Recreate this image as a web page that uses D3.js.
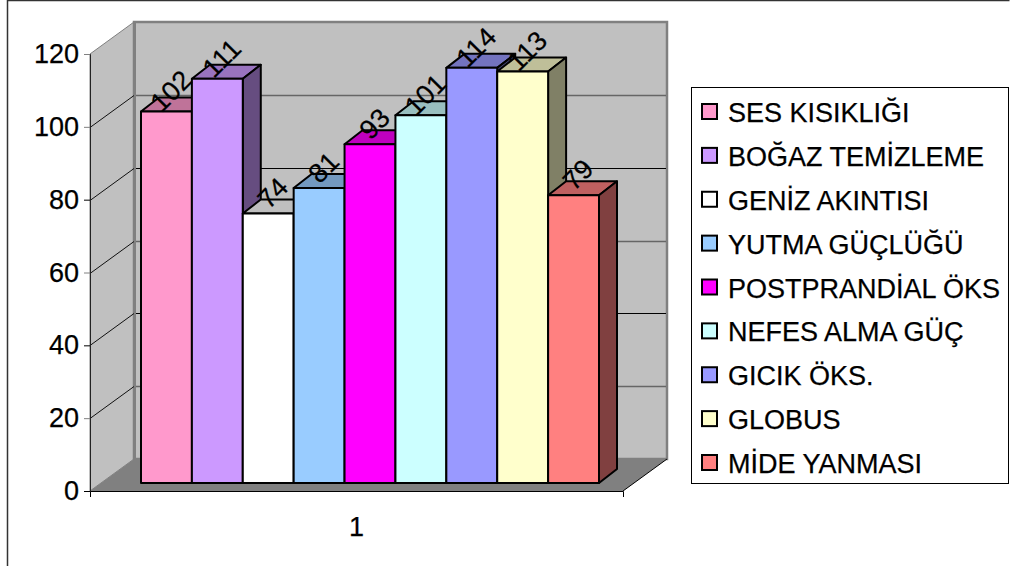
<!DOCTYPE html>
<html>
<head>
<meta charset="utf-8">
<script src="https://cdn.jsdelivr.net/npm/d3@7"></script>
<style>
html, body { margin: 0; padding: 0; background: #fff; }
svg { display: block; }
text { font-family: "Liberation Sans", Arial, sans-serif; fill: #000; stroke: #000; stroke-width: 0.25px; }
</style>
</head>
<body>
<div id="chart"></div>
<script>
var categories = ["SES KISIKLIĞI", "BOĞAZ TEMİZLEME", "GENİZ AKINTISI", "YUTMA GÜÇLÜĞÜ",
    "POSTPRANDİAL ÖKS", "NEFES ALMA GÜÇ", "GICIK ÖKS.", "GLOBUS", "MİDE YANMASI"];
var values = [102, 111, 74, 81, 93, 101, 114, 113, 79];
var colors = ["#FF99CC", "#CC99FF", "#FFFFFF", "#99CCFF", "#FF00FF", "#CCFFFF", "#9999FF", "#FFFFCC", "#FF8080"];
var yTicks = [0, 20, 40, 60, 80, 100, 120];
var xLabels = ["1"];

var w = 1010, h = 566;
var wallDx = 44, wallDy = -32;   // depth of the chart box
var barDx = 18, barDy = -14;     // depth of a bar
var floorGap = 8;                // bars stand this far up the floor
var fontSize = "27px";

var svg = d3.select("#chart").append("svg")
    .attr("width", w)
    .attr("height", h);

var yScale = d3.scaleLinear().domain([0, 120]).range([491, 54]);
var xAxisScale = d3.scaleBand().domain(xLabels).range([90, 623]);
var xScale = d3.scaleBand().domain(categories).range([141, 599]);

function pts(list) {
    return list.map(function(p) { return p[0] + "," + p[1]; }).join(" ");
}
// the picture was scaled down, so every other gridline came out grey and thicker
function isGrey(d) { return (d / 20) % 2 == 1; }

// outer frame
svg.append("path")
    .attr("d", "M7.5," + h + "V0.5H" + (w - 0.5))
    .attr("fill", "none")
    .attr("stroke", "#333")
    .attr("stroke-width", 1.5);

var x0 = xAxisScale.range()[0], x1 = xAxisScale.range()[1];
var y0 = yScale(0), yTop = yScale(120);

// walls
svg.append("polygon")
    .attr("points", pts([[x0, y0], [x0, yTop], [x0 + wallDx, yTop + wallDy], [x0 + wallDx, y0 + wallDy]]))
    .attr("fill", "#C0C0C0")
    .attr("stroke", "#808080");
svg.append("rect")
    .attr("x", x0 + wallDx)
    .attr("y", yTop + wallDy)
    .attr("width", x1 - x0)
    .attr("height", y0 - yTop)
    .attr("fill", "#C0C0C0")
    .attr("stroke", "#808080")
    .attr("stroke-width", 2.5);
svg.append("line")
    .attr("x1", x0 + wallDx + 0.5).attr("y1", yTop + wallDy)
    .attr("x2", x0 + wallDx + 0.5).attr("y2", y0 + wallDy)
    .attr("stroke", "#808080")
    .attr("stroke-width", 3);

// gridlines, side wall and back wall
var grid = svg.append("g").selectAll("g")
    .data(yTicks.slice(1, -1))
    .enter().append("g");
grid.append("line")
    .attr("x1", x0)
    .attr("y1", function(d) { return Math.round(yScale(d)) + 0.5; })
    .attr("x2", x0 + wallDx)
    .attr("y2", function(d) { return Math.round(yScale(d)) + 0.5 + wallDy; })
    .attr("stroke", "#111");
grid.append("line")
    .attr("x1", x0 + wallDx + 2)
    .attr("y1", function(d) { return Math.round(yScale(d)) + 0.5 + wallDy; })
    .attr("x2", x1 + wallDx - 1)
    .attr("y2", function(d) { return Math.round(yScale(d)) + 0.5 + wallDy; })
    .attr("stroke", function(d) { return isGrey(d) ? "#666" : "#000"; })
    .attr("stroke-width", function(d) { return isGrey(d) ? 1.5 : 1; });

// floor
svg.append("polygon")
    .attr("points", pts([[x0, y0], [x0 + wallDx, y0 + wallDy], [x1 + wallDx, y0 + wallDy], [x1, y0]]))
    .attr("fill", "#808080");
svg.append("line")
    .attr("x1", x1).attr("y1", y0)
    .attr("x2", x1 + wallDx).attr("y2", y0 + wallDy)
    .attr("stroke", "#000");

// axes
var yAxis = d3.axisLeft(yScale).tickValues(yTicks).tickSize(6).tickPadding(5);
var gy = svg.append("g").attr("transform", "translate(" + x0 + ",0)").call(yAxis);
gy.selectAll("text").style("font-size", fontSize).style("font-family", "'Liberation Sans'");
gy.selectAll("line").attr("stroke", function(d) { return isGrey(d) || d == 120 ? "#808080" : "#000"; });
gy.select(".domain").attr("stroke", "#222");

var xAxis = d3.axisBottom(xAxisScale).tickSizeInner(0).tickSizeOuter(6).tickPadding(26);
var gx = svg.append("g").attr("transform", "translate(0," + y0 + ")").call(xAxis);
gx.selectAll("text").style("font-size", fontSize).style("font-family", "'Liberation Sans'");
gx.select(".domain").attr("stroke", "#000");

// bars, left to right so each one covers the side of the one before
function shade(c, k) {
    var r = d3.rgb(c);
    return d3.rgb(r.r * k, r.g * k, r.b * k).formatHex();
}
var bars = svg.append("g").selectAll("g")
    .data(values)
    .enter().append("g")
    .attr("stroke", "#000")
    .attr("stroke-width", 2)
    .attr("stroke-linejoin", "round");

function barEdges(d, i) {
    var l = xScale(categories[i]);
    return { l: l, r: l + xScale.bandwidth(), t: yScale(d) - floorGap, b: y0 - floorGap };
}
bars.append("polygon")
    .attr("points", function(d, i) {
        var e = barEdges(d, i);
        return pts([[e.l, e.t], [e.l + barDx, e.t + barDy], [e.r + barDx, e.t + barDy], [e.r, e.t]]);
    })
    .attr("fill", function(d, i) { return shade(colors[i], 0.75); });
bars.append("polygon")
    .attr("points", function(d, i) {
        var e = barEdges(d, i);
        return pts([[e.r, e.t], [e.r + barDx, e.t + barDy], [e.r + barDx, e.b + barDy], [e.r, e.b]]);
    })
    .attr("fill", function(d, i) { return shade(colors[i], 0.5); });
bars.append("rect")
    .attr("x", function(d, i) { return barEdges(d, i).l; })
    .attr("y", function(d, i) { return barEdges(d, i).t; })
    .attr("width", xScale.bandwidth())
    .attr("height", function(d, i) { var e = barEdges(d, i); return e.b - e.t; })
    .attr("fill", function(d, i) { return colors[i]; });

// value labels
svg.append("g").selectAll("text")
    .data(values)
    .enter().append("text")
    .text(function(d) { return d; })
    .attr("text-anchor", "middle")
    .attr("dominant-baseline", "middle")
    .style("font-size", fontSize)
    .attr("transform", function(d, i) {
        var e = barEdges(d, i);
        return "translate(" + ((e.l + e.r) / 2 + 6) + "," + (e.t - 19) + ") rotate(-45)";
    });

// legend
var legendY = d3.scalePoint().domain(categories).range([112, 463]);
svg.append("rect")
    .attr("x", 691.5).attr("y", 87.5)
    .attr("width", 317).attr("height", 396)
    .attr("fill", "#fff")
    .attr("stroke", "#000");
var legend = svg.append("g").selectAll("g")
    .data(categories)
    .enter().append("g")
    .attr("transform", function(d) { return "translate(0," + legendY(d) + ")"; });
legend.append("rect")
    .attr("x", 702).attr("y", -8)
    .attr("width", 15).attr("height", 15)
    .attr("fill", function(d, i) { return colors[i]; })
    .attr("stroke", "#000")
    .attr("stroke-width", 2);
legend.append("text")
    .text(function(d) { return d; })
    .attr("x", 728)
    .attr("y", 10)
    .style("font-size", fontSize);
</script>
</body>
</html>
